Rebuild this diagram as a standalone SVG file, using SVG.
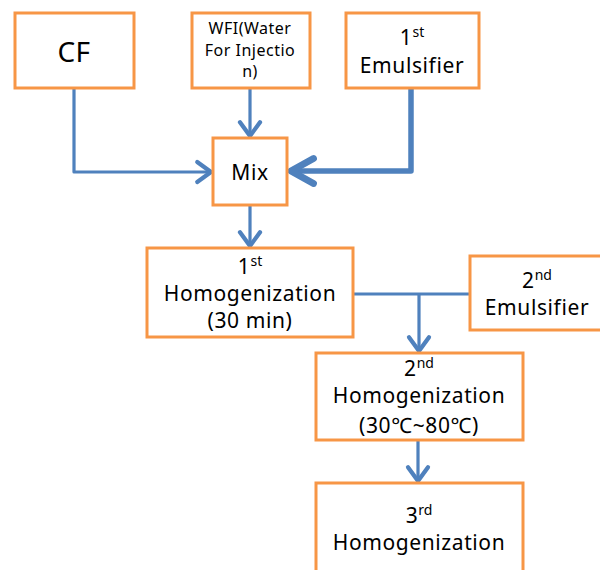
<svg xmlns="http://www.w3.org/2000/svg" width="600" height="570" viewBox="0 0 600 570">
  <style>
    .box { fill: #ffffff; stroke: #F79646; stroke-width: 3; }
    .lbl { font-family: "Noto Sans", "Liberation Sans", sans-serif; font-size: 21px; letter-spacing: 0.6px; fill: #000000; text-anchor: middle; }
    .small { font-size: 16px; letter-spacing: 0.5px; }
    .sup { font-size: 14px; letter-spacing: 0; }
    .wire { fill: none; stroke: #4F81BD; stroke-width: 3.2; stroke-linejoin: round; }
    .wire-bold { fill: none; stroke: #4F81BD; stroke-width: 5.5; stroke-linejoin: round; }
  </style>
  <defs>
    <marker id="chev" markerUnits="userSpaceOnUse" markerWidth="30" markerHeight="30" viewBox="-16 -12 20 24" refX="0" refY="0" orient="auto">
      <path d="M-11,-8 L0,0 L-11,8" fill="none" stroke="#4F81BD" stroke-width="3.4" stroke-linecap="round" stroke-linejoin="round"/>
    </marker>
    <marker id="chev-bold" markerUnits="userSpaceOnUse" markerWidth="40" markerHeight="40" viewBox="-24 -16 30 32" refX="0" refY="0" orient="auto">
      <path d="M-18,-10 L0,0 L-18,10" fill="none" stroke="#4F81BD" stroke-width="5.5" stroke-linecap="round" stroke-linejoin="round"/>
    </marker>
  </defs>

  <g id="connectors">
    <path class="wire" d="M74,88 V172 H211" marker-end="url(#chev)"/>
    <path class="wire" d="M250,88 V136" marker-end="url(#chev)"/>
    <path class="wire-bold" d="M411,88 V171 H291" marker-end="url(#chev-bold)"/>
    <path class="wire" d="M250,205 V246" marker-end="url(#chev)"/>
    <path class="wire" d="M353,294 H470"/>
    <path class="wire" d="M419,294 V351" marker-end="url(#chev)"/>
    <path class="wire" d="M418,440 V481" marker-end="url(#chev)"/>
  </g>

  <g id="cf">
    <rect class="box" x="15" y="13" width="119" height="75"/>
    <text class="lbl" x="74" y="62" style="font-size:28px;letter-spacing:0.5px">CF</text>
  </g>

  <g id="wfi">
    <rect class="box" x="192" y="13" width="118" height="75"/>
    <text class="lbl small" x="250" y="34">WFI(Water</text>
    <text class="lbl small" x="250" y="56">For Injectio</text>
    <text class="lbl small" x="250" y="77">n)</text>
  </g>

  <g id="emulsifier-1">
    <rect class="box" x="346" y="13" width="133" height="75"/>
    <text class="lbl" x="412" y="45">1<tspan class="sup" dy="-8">st</tspan></text>
    <text class="lbl" x="412" y="73">Emulsifier</text>
  </g>

  <g id="mix">
    <rect class="box" x="213" y="138" width="74" height="67"/>
    <text class="lbl" x="250" y="180">Mix</text>
  </g>

  <g id="homogenization-1">
    <rect class="box" x="147" y="248" width="206" height="89"/>
    <text class="lbl" x="250" y="274">1<tspan class="sup" dy="-8">st</tspan></text>
    <text class="lbl" x="250" y="301">Homogenization</text>
    <text class="lbl" x="250" y="328">(30 min)</text>
  </g>

  <g id="emulsifier-2">
    <rect class="box" x="470" y="256" width="140" height="74"/>
    <text class="lbl" x="537" y="288">2<tspan class="sup" dy="-8">nd</tspan></text>
    <text class="lbl" x="537" y="315">Emulsifier</text>
  </g>

  <g id="homogenization-2">
    <rect class="box" x="316" y="353" width="207" height="87"/>
    <text class="lbl" x="419" y="376">2<tspan class="sup" dy="-8">nd</tspan></text>
    <text class="lbl" x="419" y="403">Homogenization</text>
    <text class="lbl" x="419" y="433">(30℃~80℃)</text>
  </g>

  <g id="homogenization-3">
    <rect class="box" x="316" y="483" width="207" height="100"/>
    <text class="lbl" x="419" y="523">3<tspan class="sup" dy="-8">rd</tspan></text>
    <text class="lbl" x="419" y="550">Homogenization</text>
  </g>
</svg>
